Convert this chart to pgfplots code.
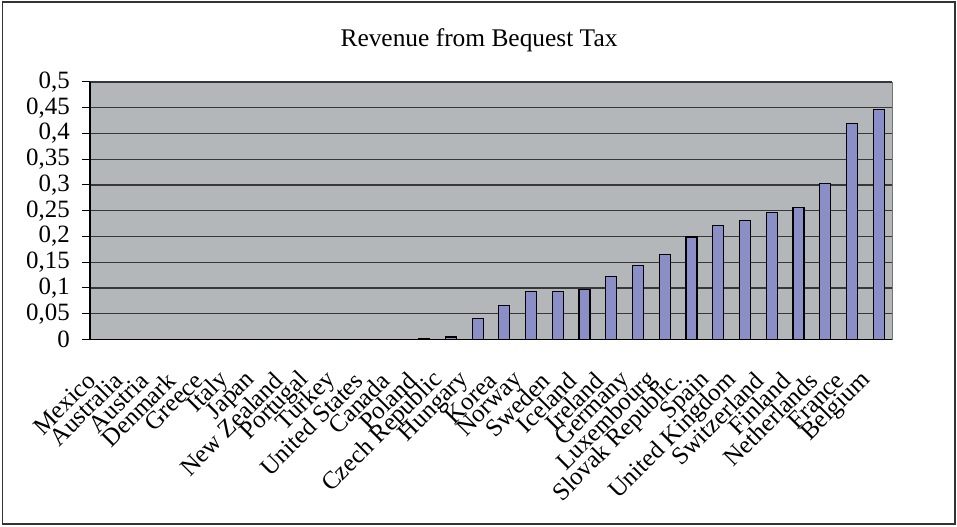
\documentclass[border=0pt]{standalone}
\usepackage{fontspec}
\setmainfont{Liberation Serif}
\usepackage{pgfplots}
\pgfplotsset{compat=1.18}
\definecolor{plotbg}{RGB}{180,183,186}
\definecolor{barfill}{RGB}{138,143,200}
\definecolor{gridc}{RGB}{55,55,55}
\newcommand{\tfont}{\fontsize{25}{26}\selectfont}
\begin{document}
\begin{tikzpicture}[x=1bp,y=1bp]
\useasboundingbox (0,0) rectangle (957,527);
\draw[line width=1.2bp, black!80] (2.5,3) rectangle (955,525);
\node[anchor=base, font=\fontsize{25.5}{27}\selectfont] at (479,480) {Revenue from Bequest Tax};
\begin{axis}[
  at={(90bp,187.5bp)}, anchor=south west,
  scale only axis, width=802bp, height=257.5bp,
  xmin=-0.5, xmax=29.5, ymin=0, ymax=0.5,
  axis background/.style={fill=plotbg, draw=black!55},
  axis lines=left, axis line style={-, black, line width=1.1bp},
  ybar, bar width=11bp,
  ytick={0,0.05,0.1,0.15,0.2,0.25,0.3,0.35,0.4,0.45,0.5},
  yticklabels={0,{0,05},{0,1},{0,15},{0,2},{0,25},{0,3},{0,35},{0,4},{0,45},{0,5}},
  ymajorgrids, grid style={gridc, line width=1.1bp},
  tick align=outside, major tick length=8bp, minor tick length=7bp,
  tick style={black, line width=1bp},
  xtick={0,...,29},
  x tick style={draw=none},
  minor xtick={-0.5,0.5,...,29.5},
  xticklabels={Mexico,Australia,Austria,Denmark,Greece,Italy,Japan,New Zealand,Portugal,Turkey,United States,Canada,Poland,Czech Republic,Hungary,Korea,Norway,Sweden,Iceland,Ireland,Germany,Luxembourg,Slovak Republic.,Spain,United Kingdom,Switzerland,Finland,Netherlands,France,Belgium},
  xticklabel style={xshift=-12bp, yshift=-29bp, rotate=45, anchor=east, inner sep=0pt, font=\tfont},
  yticklabel style={font=\tfont, inner sep=0pt, xshift=-12bp},
]
\addplot[fill=barfill, draw=black, line width=1.2bp] coordinates {
(0,0) (1,0) (2,0) (3,0) (4,0) (5,0) (6,0) (7,0) (8,0) (9,0) (10,0) (11,0)
(12,0.002) (13,0.005) (14,0.040) (15,0.066) (16,0.093) (17,0.093) (18,0.097)
(19,0.122) (20,0.143) (21,0.165) (22,0.199) (23,0.221) (24,0.231) (25,0.247)
(26,0.257) (27,0.303) (28,0.419) (29,0.447)
};
\end{axis}
\end{tikzpicture}
\end{document}
